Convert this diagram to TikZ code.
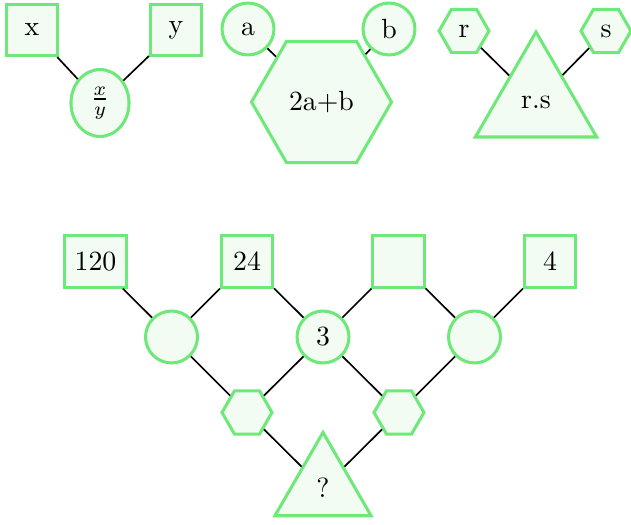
\documentclass[tikz,border=0pt]{standalone}
\usetikzlibrary{shapes.geometric}

\definecolor{nodeline}{RGB}{110,232,120}
\definecolor{nodefill}{RGB}{242,252,242}

\tikzstyle{cell} = [draw=nodeline, fill=nodefill, line width=1.1pt, inner sep=0pt]
\tikzstyle{valbox} = [cell, rectangle, minimum size=18.4pt, inner sep=3.5pt]
\tikzstyle{opcirc} = [cell, circle, minimum size=18.7pt]
\tikzstyle{fracoval} = [cell, ellipse, minimum width=20.9pt, minimum height=24.1pt]
\tikzstyle{ophex} = [cell, regular polygon, regular polygon sides=6, minimum size=18pt]
\tikzstyle{bighex} = [ophex, minimum size=50.4pt]
\tikzstyle{optri} = [cell, regular polygon, regular polygon sides=3, minimum size=40pt]
\tikzstyle{bigtri} = [optri, minimum size=50.4pt]
\tikzstyle{link} = [semithick]

\begin{document}
\begin{tikzpicture}[x=0.36pt, y=-0.36pt]
\useasboundingbox (0,0) rectangle (631,525);

\node[valbox] (x) at (32,30) {x};
\node[valbox] (y) at (176,30) {y};
\node[fracoval] (xy) at (100,103) {$\frac{x}{y}$};

\node[opcirc] (a) at (248,29) {a};
\node[opcirc] (b) at (389,29) {b};
\node[bighex] (ab) at (321.5,102) {2a+b};

\node[ophex] (r) at (464,31) {r};
\node[ophex] (s) at (606,31) {s};
\node[bigtri] (rs) at (536,102) {r.s};

\node[valbox] (n120) at (95.5,261.5) {120};
\node[valbox] (n24) at (247,261.5) {24};
\node[valbox] (blank) at (398.5,261.5) {};
\node[valbox] (n4) at (550,261.5) {4};
\node[opcirc] (m1) at (171.5,337) {};
\node[opcirc] (m2) at (323,337) {3};
\node[opcirc] (m3) at (474.5,337) {};
\node[ophex] (h1) at (247,412.5) {};
\node[ophex] (h2) at (399,412.5) {};
\node[optri] (q) at (323,488) {?};

\foreach \from/\to in {x/xy, y/xy, a/ab, b/ab, r/rs, s/rs,
    n120/m1, n24/m1, n24/m2, blank/m2, blank/m3, n4/m3,
    m1/h1, m2/h1, m2/h2, m3/h2, h1/q, h2/q}
  \draw[link] (\from) -- (\to);
\end{tikzpicture}
\end{document}
